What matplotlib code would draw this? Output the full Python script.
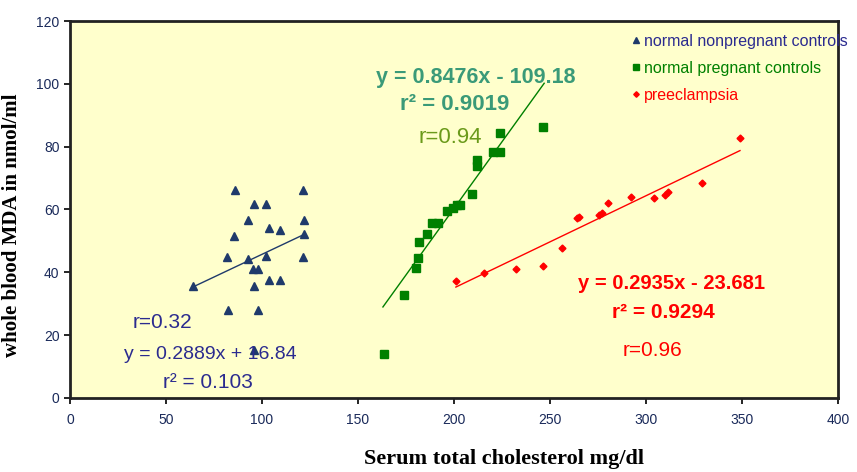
import numpy as np
import matplotlib
matplotlib.use("Agg")
import matplotlib.pyplot as plt

# ---- data ----
np_x = [85.9, 121.2, 96.0, 102.0, 92.9, 121.9, 103.8, 109.5, 85.6, 122.0, 81.9, 92.9,
        101.9, 121.2, 95.1, 97.7, 103.8, 109.4, 96.0, 64.2, 82.1, 98.1, 96.0]
np_y = [66.2, 66.2, 61.7, 61.7, 56.7, 56.7, 54.2, 53.5, 51.7, 52.2, 45.0, 44.3,
        45.2, 44.8, 41.0, 41.0, 37.6, 37.6, 35.7, 35.7, 28.0, 28.0, 15.3]

pg_x = [163.7, 174.1, 180.0, 181.1, 181.9, 185.8, 188.4, 191.8, 196.2, 199.5, 201.4,
        203.1, 209.2, 211.8, 211.8, 220.5, 224.0, 224.0, 246.2]
pg_y = [14.0, 32.8, 41.5, 44.5, 49.5, 52.2, 55.8, 55.8, 59.6, 60.5, 61.5,
        61.5, 65.0, 75.8, 74.0, 78.4, 78.4, 84.3, 86.2]

pe_x = [201.0, 215.8, 232.3, 246.2, 256.4, 263.9, 265.1, 275.7, 276.9, 280.4, 292.0,
        304.2, 309.9, 311.6, 329.3, 349.0]
pe_y = [37.3, 39.9, 41.0, 42.0, 47.9, 57.2, 57.6, 58.3, 58.8, 62.0, 63.9,
        63.8, 64.6, 65.7, 68.4, 82.7]

fits = {
    "np": (0.2889, 16.84, 64.0, 122.0),
    "pg": (0.8476, -109.18, 163.0, 247.0),
    "pe": (0.2935, -23.681, 201.0, 349.0),
}

labels = ["normal nonpregnant controls", "normal pregnant controls", "preeclampsia"]
x_ticks = [0, 50, 100, 150, 200, 250, 300, 350, 400]
y_ticks = [0, 20, 40, 60, 80, 100, 120]

c_np = "#1f3a6b"
c_np_txt = "#2b2b8f"
c_pg = "#008000"
c_pg_txt = "#3a9a78"
c_pe = "#ff0000"

plt.rcParams['font.family'] = ['Liberation Sans', 'DejaVu Sans']

fig = plt.figure(figsize=(8.57, 4.72), dpi=100)
ax = fig.add_axes([0.0817, 0.1568, 0.896, 0.7987])
ax.set_facecolor("#ffffcc")

ax.plot(np_x, np_y, linestyle="none", marker="^", ms=6, color=c_np, label=labels[0])
ax.plot(pg_x, pg_y, linestyle="none", marker="s", ms=6, color=c_pg, label=labels[1])
ax.plot(pe_x, pe_y, linestyle="none", marker="D", ms=3.5, color=c_pe, label=labels[2])

for key, col in [("np", c_np), ("pg", c_pg), ("pe", c_pe)]:
    m, b, x0, x1 = fits[key]
    xs = np.array([x0, x1])
    ax.plot(xs, m * xs + b, color=col, lw=1.0)

ax.set_xlim(0, 400)
ax.set_ylim(0, 120)
ax.set_xticks(x_ticks)
ax.set_yticks(y_ticks)
ax.tick_params(labelsize=10, colors="black", length=4, width=1.2)
ax.tick_params(axis="x", pad=7)
for lbl in ax.get_xticklabels() + ax.get_yticklabels():
    lbl.set_color("#1a2a5a")
for s in ax.spines.values():
    s.set_linewidth(2)
    s.set_color("#222222")

ax.set_xlabel("Serum total cholesterol mg/dl", family="Liberation Serif",
              fontweight="bold", fontsize=16)
ax.xaxis.set_label_coords(0.565, -0.135)
ax.set_ylabel("whole blood MDA in nmol/ml", family="Liberation Serif",
              fontweight="bold", fontsize=15)
ax.yaxis.set_label_coords(-0.0625, 0.459)

# annotations
ax.text(47.9, 23.9, "r=0.32", color=c_np_txt, fontsize=15, ha="center", va="center")
ax.text(72.9, 14.0, "y = 0.2889x + 16.84", color=c_np_txt, fontsize=14, ha="center", va="center")
ax.text(71.9, 4.8, "r² = 0.103", color=c_np_txt, fontsize=15, ha="center", va="center")

ax.text(211.5, 101.9, "y = 0.8476x - 109.18", color=c_pg_txt, fontsize=15.5,
        fontweight="bold", ha="center", va="center")
ax.text(200.5, 93.3, "r² = 0.9019", color=c_pg_txt, fontsize=16,
        fontweight="bold", ha="center", va="center")
ax.text(197.9, 82.8, "r=0.94", color="#6a9a1a", fontsize=16, ha="center", va="center")

ax.text(313.5, 36.3, "y = 0.2935x - 23.681", color=c_pe, fontsize=14.5,
        fontweight="bold", ha="center", va="center")
ax.text(309.3, 27.1, "r² = 0.9294", color=c_pe, fontsize=15,
        fontweight="bold", ha="center", va="center")
ax.text(303.6, 15.0, "r=0.96", color=c_pe, fontsize=15, ha="center", va="center")

leg = ax.legend(loc="upper left", bbox_to_anchor=(0.727, 0.975), frameon=False,
                fontsize=11.5, handlelength=0.6, handletextpad=0.2,
                labelspacing=0.75, borderaxespad=0.0, borderpad=0.2, markerscale=0.8)
for t, c in zip(leg.get_texts(), [c_np_txt, c_pg, c_pe]):
    t.set_color(c)

fig.savefig("out.png", dpi=100)
